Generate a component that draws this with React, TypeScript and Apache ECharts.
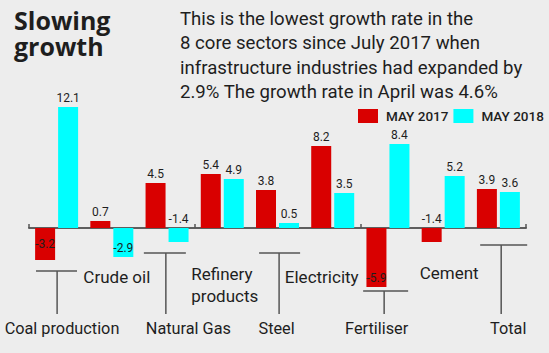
import React, { useEffect, useRef } from "react";
import * as echarts from "echarts";

const categories = [
  "Coal production",
  "Crude oil",
  "Natural Gas",
  "Refinery products",
  "Steel",
  "Electricity",
  "Fertiliser",
  "Cement",
  "Total",
];
const may2017 = [-3.2, 0.7, 4.5, 5.4, 3.8, 8.2, -5.9, -1.4, 3.9];
const may2018 = [12.1, -2.9, -1.4, 4.9, 0.5, 3.5, 8.4, 5.2, 3.6];
const seriesNames = ["MAY 2017", "MAY 2018"];
const titleLines = ["Slowing", "growth"];
const noteText =
  "This is the lowest growth rate in the\n8 core sectors since July 2017 when\ninfrastructure industries had expanded by\n2.9% The growth rate in April was 4.6%";

const RED = "#d90000";
const CYAN = "#00ffff";
const TEXT = "#1e1e1e";
const LINE = "#555555";
const FONT = "Roboto";

// label placement for negative values (layout only)
const pos2017: Record<number, string> = { 0: "inside", 6: "insideBottom", 7: "top" };
const pos2018: Record<number, string> = { 1: "insideBottom", 2: "top" };

// annotation layout, offsets relative to category centre
const stems = [
  { i: 0, hy: 271, h0: -20.6, h1: 20.4, sdx: 0.5, tdx: 5.4 },
  { i: 2, hy: 253, h0: -23.2, h1: 18.8, sdx: -1.2, tdx: 21.3 },
  { i: 4, hy: 253, h0: -18.4, h1: 22.6, sdx: 1.6, tdx: -0.9 },
  { i: 6, hy: 291, h0: -24.8, h1: 20.2, sdx: -3.8, tdx: -11.3 },
  { i: 8, hy: 245, h0: -18.2, h1: 28.8, sdx: 2.8, tdx: 9.8 },
];
const freeLabels = [
  { i: 1, dx: 5, y: 277, align: "center" },
  { i: 3, dx: -31, y: 274, align: "left" },
  { i: 5, dx: -11, y: 277, align: "center" },
  { i: 7, dx: 6, y: 273, align: "center" },
];

export default function App() {
  const ref = useRef<HTMLDivElement>(null);
  useEffect(() => {
    document.body.style.margin = "0";
    const chart = echarts.init(ref.current!, null, { renderer: "svg" });
    const mkData = (vals: number[], pos: Record<number, string>) =>
      vals.map((v, i) => (pos[i] ? { value: v, label: { position: pos[i], distance: 3 } } : v));
    const titleStyle = {
      fontFamily: "Open Sans",
      fontSize: 25,
      fontWeight: "bold",
      color: TEXT,
    };
    chart.setOption({
      animation: false,
      backgroundColor: "#ededed",
      title: [
        { text: titleLines[0], left: 14, top: 6, padding: 0, textStyle: { ...titleStyle, lineHeight: 28 } },
        { text: titleLines[1], left: 14, top: 34, padding: 0, textStyle: { ...titleStyle, lineHeight: 24 } },
        {
          text: noteText,
          left: 180,
          top: 7,
          padding: 0,
          textStyle: {
            fontFamily: FONT,
            fontSize: 18.6,
            fontWeight: "normal",
            lineHeight: 24.3,
            color: TEXT,
          },
        },
      ],
      legend: {
        left: 358,
        top: 109,
        padding: 0,
        itemWidth: 20,
        itemHeight: 14,
        itemGap: 5,
        icon: "rect",
        data: seriesNames,
        textStyle: {
          fontFamily: FONT,
          fontSize: 13.5,
          fontWeight: 500,
          color: TEXT,
          padding: [0, 0, 0, 3],
        },
      },
      grid: { left: 29, right: 23, top: 98, height: 200 },
      xAxis: {
        type: "category",
        data: categories,
        axisLabel: { show: false },
        axisLine: { onZero: true, lineStyle: { color: "#5e5e5e", width: 2 } },
        axisTick: { show: true, inside: true, length: 4, lineStyle: { color: "#555", width: 1.5 } },
      },
      yAxis: {
        type: "value",
        min: -7,
        max: 13,
        show: false,
        splitLine: { show: false },
      },
      series: [
        {
          name: seriesNames[0],
          type: "bar",
          data: mkData(may2017, pos2017),
          barWidth: 20,
          barGap: "15%",
          itemStyle: { color: RED },
          label: { show: true, position: "top", distance: 3, fontFamily: FONT, fontSize: 12, color: TEXT },
        },
        {
          name: seriesNames[1],
          type: "bar",
          data: mkData(may2018, pos2018),
          barWidth: 20,
          barGap: "15%",
          itemStyle: { color: CYAN },
          label: { show: true, position: "top", distance: 3, fontFamily: FONT, fontSize: 12, color: TEXT },
        },
      ],
    });

    const cx = (i: number) => chart.convertToPixel({ xAxisIndex: 0 }, categories[i]) as number;
    const graphics: any[] = [];
    const lineStyle = { stroke: LINE, lineWidth: 1.5 };
    stems.forEach((s) => {
      const c = cx(s.i);
      graphics.push({
        type: "line",
        shape: { x1: c + s.h0, y1: s.hy, x2: c + s.h1, y2: s.hy },
        style: lineStyle,
      });
      graphics.push({
        type: "line",
        shape: { x1: c + s.sdx, y1: s.hy, x2: c + s.sdx, y2: 314 },
        style: lineStyle,
      });
      graphics.push({
        type: "text",
        x: c + s.tdx,
        y: 328,
        style: {
          fontFamily: FONT,
          fontSize: 16.3,
          fill: TEXT,
          text: categories[s.i],
          align: "center",
          verticalAlign: "middle",
        },
      });
    });
    freeLabels.forEach((f) => {
      const x = cx(f.i) + f.dx;
      const twoLine = f.i === 3;
      graphics.push({
        type: "text",
        x,
        y: twoLine ? f.y - 11 : f.y,
        style: {
          fontFamily: FONT,
          fontSize: 17,
          fill: TEXT,
          text: twoLine ? categories[f.i].split(" ").join("\n") : categories[f.i],
          align: f.align,
          verticalAlign: twoLine ? "top" : "middle",
          lineHeight: 22,
        },
      });
    });
    chart.setOption({ graphic: graphics });
    return () => chart.dispose();
  }, []);
  return <div ref={ref} style={{ width: 549, height: 353 }} />;
}
